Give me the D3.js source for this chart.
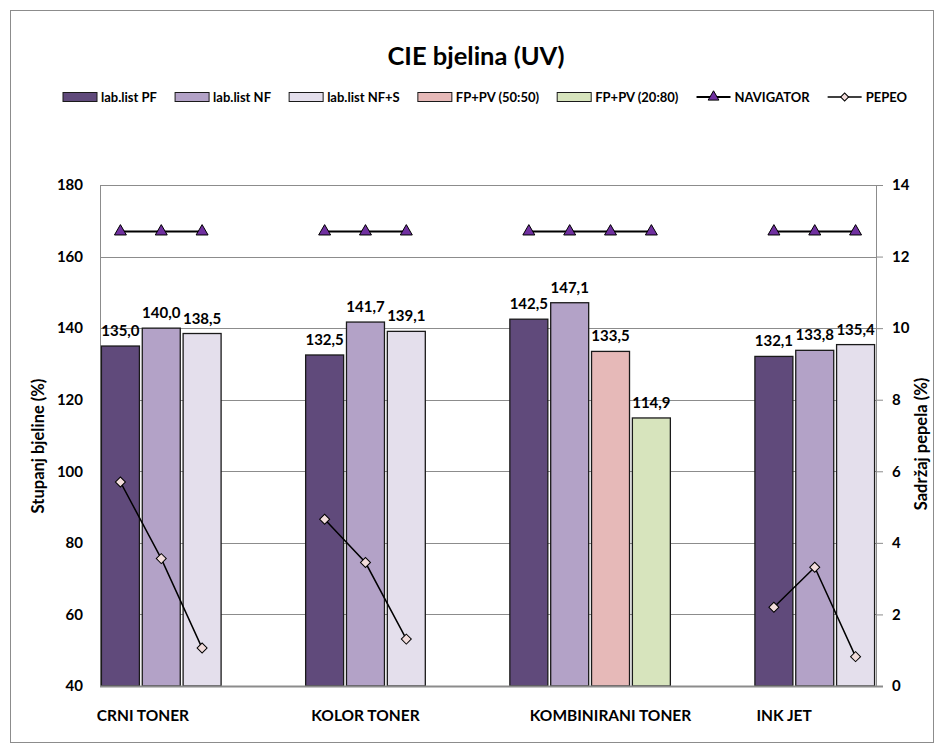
<!DOCTYPE html>
<html><head><meta charset="utf-8">
<script src="https://cdn.jsdelivr.net/npm/d3@7/dist/d3.min.js"></script>
<style>
body{margin:0;background:#fff;}
svg{display:block;font-family:Lato,"Open Sans",sans-serif;font-weight:bold;}
</style></head>
<body><svg id="c" width="944" height="753"></svg>
<script>
// ---- data ----
const categories = ["CT-PF","CT-NF","CT-NFS","g1","g2","KT-PF","KT-NF","KT-NFS","g3","g4","KB-PF","KB-NF","KB-5050","KB-2080","g5","g6","IJ-PF","IJ-NF","IJ-NFS"];
const groupLabels = ["CRNI TONER","KOLOR TONER","KOMBINIRANI TONER","INK JET"];
const groupLabelCats = [0.55, 6, 12, 16.25];
const seriesNames = ["lab.list PF","lab.list NF","lab.list NF+S","FP+PV (50:50)","FP+PV (20:80)"];
const labPF  = [135.0,null,null,null,null,132.5,null,null,null,null,142.5,null,null,null,null,null,132.1,null,null];
const labNF  = [null,140.0,null,null,null,null,141.7,null,null,null,null,147.1,null,null,null,null,null,133.8,null];
const labNFS = [null,null,138.5,null,null,null,null,139.1,null,null,null,null,null,null,null,null,null,null,135.4];
const fp5050 = [null,null,null,null,null,null,null,null,null,null,null,null,133.5,null,null,null,null,null,null];
const fp2080 = [null,null,null,null,null,null,null,null,null,null,null,null,null,114.9,null,null,null,null,null];
const navigator = [12.7,12.7,12.7,null,null,12.7,12.7,12.7,null,null,12.7,12.7,12.7,12.7,null,null,12.7,12.7,12.7];
const pepeo = [5.70,3.56,1.06,null,null,4.66,3.45,1.31,null,null,null,null,null,null,null,null,2.20,3.32,0.82];
const leftTicks = [40,60,80,100,120,140,160,180];
const rightTicks = [0,2,4,6,8,10,12,14];
const barColors = ["#604A7B","#B3A2C7","#E4DFEC","#E6B9B8","#D7E4BD"];

const svg = d3.select("#c");
const m = {l:100, r:876, t:185, b:686};

svg.append("rect").attr("x",10.5).attr("y",10.5).attr("width",923).attr("height",732)
  .attr("fill","#fff").attr("stroke","#8c8c8c").attr("stroke-width",1);

const x = d3.scaleBand().domain(categories).range([m.l,m.r]).paddingInner(0.07).paddingOuter(0.035);
const xi = d3.scaleLinear().domain([0,categories.length]).range([m.l,m.r]);
const yL = d3.scaleLinear().domain([40,180]).range([m.b,m.t]);
const yR = d3.scaleLinear().domain([0,14]).range([m.b,m.t]);

// gridlines
svg.append("g").selectAll("line").data(leftTicks.slice(1)).join("line")
  .attr("x1",m.l).attr("x2",m.r).attr("y1",d=>Math.round(yL(d))+0.5).attr("y2",d=>Math.round(yL(d))+0.5)
  .attr("stroke","#8c8c8c").attr("stroke-width",1);

// left axis
const ga = svg.append("g").attr("transform",`translate(${m.l},0)`)
  .call(d3.axisLeft(yL).tickValues(leftTicks).tickSize(0).tickPadding(17));
ga.select(".domain").attr("stroke","#8c8c8c");
ga.selectAll("text").attr("font-size",15).attr("font-family","Lato").attr("font-weight","bold").attr("fill","#000");

// right axis
const gr = svg.append("g").attr("transform",`translate(${m.r},0)`)
  .call(d3.axisRight(yR).tickValues(rightTicks).tickSize(7).tickPadding(9));
gr.select(".domain").attr("stroke","#8c8c8c");
gr.selectAll(".tick line").attr("stroke","#8c8c8c");
gr.selectAll("text").attr("font-size",15).attr("font-family","Lato").attr("font-weight","bold").attr("fill","#000");

// bars
const allSeries = [labPF,labNF,labNFS,fp5050,fp2080];
allSeries.forEach((vals,si)=>{
  const data = categories.map((c,i)=>({c,v:vals[i]})).filter(d=>d.v!=null);
  svg.append("g").selectAll("rect").data(data).join("rect")
    .attr("x",d=>x(d.c)).attr("width",x.bandwidth())
    .attr("y",d=>yL(d.v)).attr("height",d=>m.b-yL(d.v))
    .attr("fill",barColors[si]).attr("stroke","#1a1a1a").attr("stroke-width",1.3);
  svg.append("g").selectAll("text").data(data).join("text")
    .attr("x",d=>x(d.c)+x.bandwidth()/2).attr("y",d=>yL(d.v)-10)
    .attr("text-anchor","middle").attr("font-size",15).attr("fill","#000")
    .text(d=>d3.format(".1f")(d.v).replace(".",","));
});

// bottom axis line
svg.append("line").attr("x1",m.l).attr("x2",m.r+7).attr("y1",m.b+0.5).attr("y2",m.b+0.5)
  .attr("stroke","#8c8c8c").attr("stroke-width",2);

// lines
const cx = c=>x(c)+x.bandwidth()/2;
const lineGen = d3.line().defined(d=>d.v!=null).x(d=>cx(d.c)).y(d=>yR(d.v));
const navData = categories.map((c,i)=>({c,v:navigator[i]}));
const pepData = categories.map((c,i)=>({c,v:pepeo[i]}));
svg.append("path").datum(navData).attr("d",lineGen).attr("fill","none").attr("stroke","#000").attr("stroke-width",2.2);
svg.append("path").datum(pepData).attr("d",lineGen).attr("fill","none").attr("stroke","#000").attr("stroke-width",1.5);
const tri = d3.symbol().type(d3.symbolTriangle).size(62);
const sq = d3.symbol().type(d3.symbolSquare).size(50);
svg.append("g").selectAll("path").data(navData.filter(d=>d.v!=null)).join("path")
  .attr("d",tri).attr("transform",d=>`translate(${cx(d.c)},${yR(d.v)})`)
  .attr("fill","#7030A0").attr("stroke","#000").attr("stroke-width",1);
svg.append("g").selectAll("path").data(pepData.filter(d=>d.v!=null)).join("path")
  .attr("d",sq).attr("transform",d=>`translate(${cx(d.c)},${yR(d.v)}) rotate(45)`)
  .attr("fill","#F2DCDB").attr("stroke","#000").attr("stroke-width",1);

// x labels
svg.append("g").selectAll("text").data(groupLabels).join("text")
  .attr("x",(d,i)=>xi(groupLabelCats[i]+0.5)).attr("y",721)
  .attr("text-anchor","middle").attr("font-size",15.5).text(d=>d);

// axis titles
svg.append("text").attr("transform","translate(44,446) rotate(-90)").attr("text-anchor","middle")
  .attr("font-size",16.5).text("Stupanj bjeline (%)");
svg.append("text").attr("transform","translate(927,444) rotate(-90)").attr("text-anchor","middle")
  .attr("font-size",16.5).text("Sadržaj pepela (%)");

// title
svg.append("text").attr("x",476).attr("y",65).attr("text-anchor","middle").attr("font-size",25.5).text("CIE bjelina (UV)");

// legend
const legItems = seriesNames.map((n,i)=>({n,type:"bar",color:barColors[i]}))
  .concat([{n:"NAVIGATOR",type:"nav"},{n:"PEPEO",type:"pep"}]);
const lg = svg.append("g");
const items = lg.selectAll("g").data(legItems).join("g");
const triS = d3.symbol().type(d3.symbolTriangle).size(50);
const sqS = d3.symbol().type(d3.symbolSquare).size(32);
items.each(function(d){
  const g = d3.select(this);
  if(d.type==="bar"){
    g.append("rect").attr("x",0).attr("y",-4.5).attr("width",34).attr("height",9).attr("fill",d.color).attr("stroke","#1a1a1a").attr("stroke-width",1);
  } else if(d.type==="nav"){
    g.append("line").attr("x1",0).attr("x2",34).attr("y1",0).attr("y2",0).attr("stroke","#000").attr("stroke-width",2.2);
    g.append("path").attr("d",triS).attr("transform","translate(17,0)").attr("fill","#7030A0").attr("stroke","#000");
  } else {
    g.append("line").attr("x1",0).attr("x2",34).attr("y1",0).attr("y2",0).attr("stroke","#000").attr("stroke-width",1.5);
    g.append("path").attr("d",sqS).attr("transform","translate(17,0) rotate(45)").attr("fill","#F2DCDB").attr("stroke","#000");
  }
  const t = g.append("text").attr("x",38).attr("y",4.5).attr("font-size",13).text(d.n);
  d.w = 38 + t.node().getComputedTextLength();
});
const lx0 = 63, lx1 = 907;
const gap = (lx1 - lx0 - d3.sum(legItems,d=>d.w))/(legItems.length-1);
let sx = lx0;
items.attr("transform",d=>{const tr=`translate(${sx},97)`; sx += d.w+gap; return tr;});
</script></body></html>
